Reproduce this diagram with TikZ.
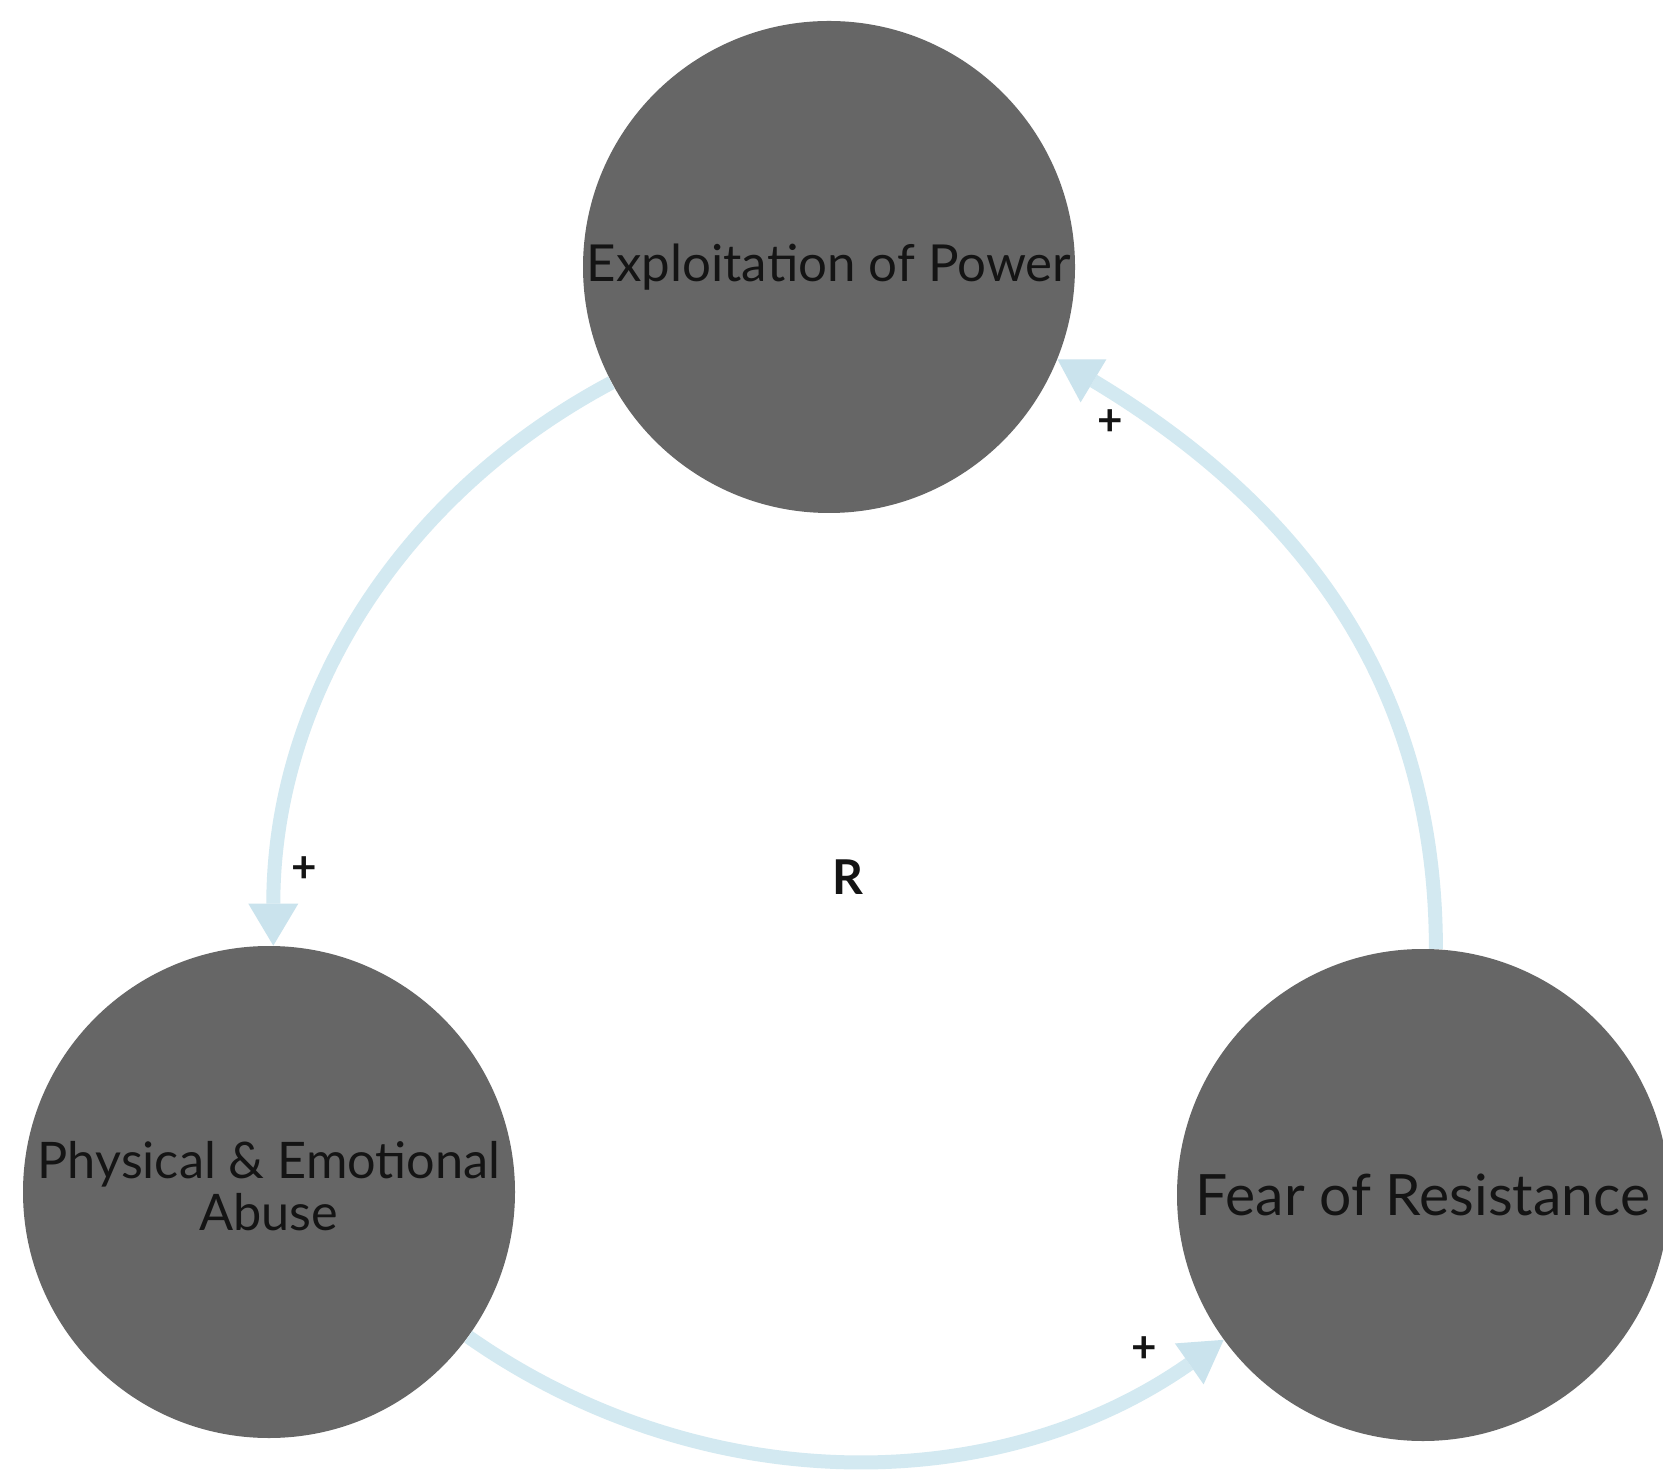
\documentclass[tikz,border=0pt]{standalone}
\usepackage{fontspec}
\setmainfont{Lato}
\usetikzlibrary{arrows.meta}
\definecolor{nodegray}{HTML}{666666}
\definecolor{linkblue}{HTML}{D3E9F1}
\definecolor{headblue}{HTML}{CAE3ED}
\definecolor{textdark}{HTML}{141414}
\begin{document}
\begin{tikzpicture}[x=0.5pt,y=0.5pt,
  varnode/.style={circle, fill=nodegray, minimum size=246pt, inner sep=0pt,
    text=textdark, font=\fontsize{25.5}{30}\selectfont},
  link/.style={draw=linkblue, line width=7pt,
    -{Triangle[length=21pt,width=25pt,line width=0pt,color=headblue]}},
  sign/.style={font=\bfseries\fontsize{22}{24}\selectfont, text=textdark, inner sep=0pt}]
\useasboundingbox (0,0) rectangle (1663,1473);
\fill[white] (0,0) rectangle (1663,1473);
\node[varnode] (top) at (829,1206) {\raisebox{-3pt}{\makebox[0pt][c]{Exploitation of Power}}};
\node[varnode, font=\fontsize{25.2}{30}\selectfont] (bl) at (269,281) {\raisebox{-2pt}{\makebox[0pt][c]{\begin{tabular}{@{}c@{}}Physical \& Emotional\\[-4pt]Abuse\end{tabular}}}};
\node[varnode, font=\fontsize{28.5}{32}\selectfont] (br) at (1423,278) {\makebox[0pt][c]{Fear of Resistance}};
\draw[link] (top.208) to[out=208,in=90,looseness=0.95] (bl.89);
\draw[link] (bl.-36) to[out=-35,in=215,looseness=0.95] (br.216);
\draw[link] (br.87) to[out=90,in=-31,looseness=1.0] (top.-22);
\node[sign] (p1) at (1110,1050) {+};
\node[sign] (p2) at (304,603) {+};
\node[sign] (p3) at (1144,123) {+};
\node[sign, font=\bfseries\fontsize{24}{26}\selectfont] (loop) at (848,596) {R};
\end{tikzpicture}
\end{document}
